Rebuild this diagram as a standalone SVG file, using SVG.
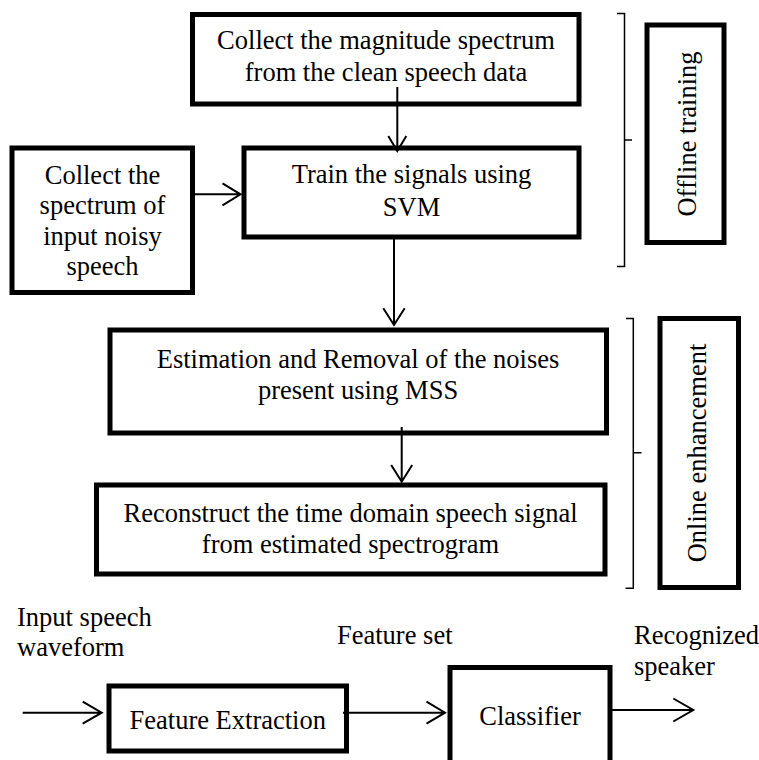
<svg xmlns="http://www.w3.org/2000/svg" width="759" height="760" viewBox="0 0 759 760">
<style>
  .box { fill: #fff; stroke: #000; stroke-width: 5; }
  .t { font-family: 'Liberation Serif', 'DejaVu Serif', serif; font-size: 26.5px; fill: #000; text-anchor: middle; }
  .l { font-family: 'Liberation Serif', 'DejaVu Serif', serif; font-size: 26.5px; fill: #000; }
  .c { fill: none; stroke: #000; stroke-width: 2; }
  .br { fill: none; stroke: #000; stroke-width: 1.5; }
</style>
<rect width="759" height="760" fill="#fff"/>
<g id="n1"><rect class="box" x="192.5" y="14.5" width="386.5" height="89.5"/>
  <text class="t" x="386" y="48.5" font-family="Liberation Serif, serif">Collect the magnitude spectrum</text>
  <text class="t" x="386" y="81" font-family="Liberation Serif, serif">from the clean speech data</text></g>
<g id="n2"><rect class="box" x="12" y="148" width="180.5" height="144.5"/>
  <text class="t" x="102.5" y="184">Collect the</text>
  <text class="t" x="102.5" y="214">spectrum of</text>
  <text class="t" x="102.5" y="244.5">input noisy</text>
  <text class="t" x="102.5" y="275">speech</text></g>
<g id="n3"><rect class="box" x="244" y="148" width="335" height="89"/>
  <text class="t" x="411.5" y="183">Train the signals using</text>
  <text class="t" x="411.5" y="216">SVM</text></g>
<g id="n4"><rect class="box" x="110" y="330" width="496.5" height="103"/>
  <text class="t" x="358" y="367.5">Estimation and Removal of the noises</text>
  <text class="t" x="358" y="398.5">present using MSS</text></g>
<g id="n5"><rect class="box" x="96.5" y="485" width="508.5" height="89"/>
  <text class="t" x="350.5" y="521.5">Reconstruct the time domain speech signal</text>
  <text class="t" x="350.5" y="553">from estimated spectrogram</text></g>
<g id="offline"><rect class="box" x="647" y="25" width="77" height="217.5"/>
  <text class="t" transform="translate(696,134) rotate(-90)">Offline training</text></g>
<g id="online"><rect class="box" x="660" y="318.5" width="78.5" height="269"/>
  <text class="t" transform="translate(706,453) rotate(-90)">Online enhancement</text></g>
<g id="n6"><rect class="box" x="109" y="686" width="237.5" height="65"/>
  <text class="t" x="227.75" y="728.5">Feature Extraction</text></g>
<g id="n7"><rect class="box" x="450" y="667.5" width="160" height="100"/>
  <text class="t" x="530" y="725">Classifier</text></g>
<g id="labels">
  <text class="l" x="17" y="625.5">Input speech</text>
  <text class="l" x="17" y="656">waveform</text>
  <text class="l" x="337" y="643.5">Feature set</text>
  <text class="l" x="634" y="643.5">Recognized</text>
  <text class="l" x="634" y="675">speaker</text>
</g>
<g id="brackets">
  <path class="br" d="M617,13.5 H624.5 V266.5 H617 M624.5,140 H632"/>
  <path class="br" d="M626,318.5 H633.3 V588.3 H625.5 M633.3,452.7 H641.5"/>
</g>
<g id="connectors">
  <path class="c" d="M190,194.3 H240.5 M222.5,183.3 L240.5,194.3 L222.5,205.3"/>
  <path class="c" d="M397.3,87 V151 M388.3,136 L397.3,151 L406.3,136"/>
  <path class="c" d="M394,237 V325 M383.3,308.3 L394,325 L404.7,308.3"/>
  <path class="c" d="M401.7,427 V481.7 M391.2,465 L401.7,481.7 L412.2,465"/>
  <path class="c" d="M22.7,712.7 H101.7 M82.7,701.7 L101.7,712.7 L82.7,723.7"/>
  <path class="c" d="M343,712.7 H445 M426.5,701.7 L445,712.7 L426.5,723.7"/>
  <path class="c" d="M610,710 H693.3 M673.3,698.5 L693.3,710 L673.3,721.5"/>
</g>
</svg>
